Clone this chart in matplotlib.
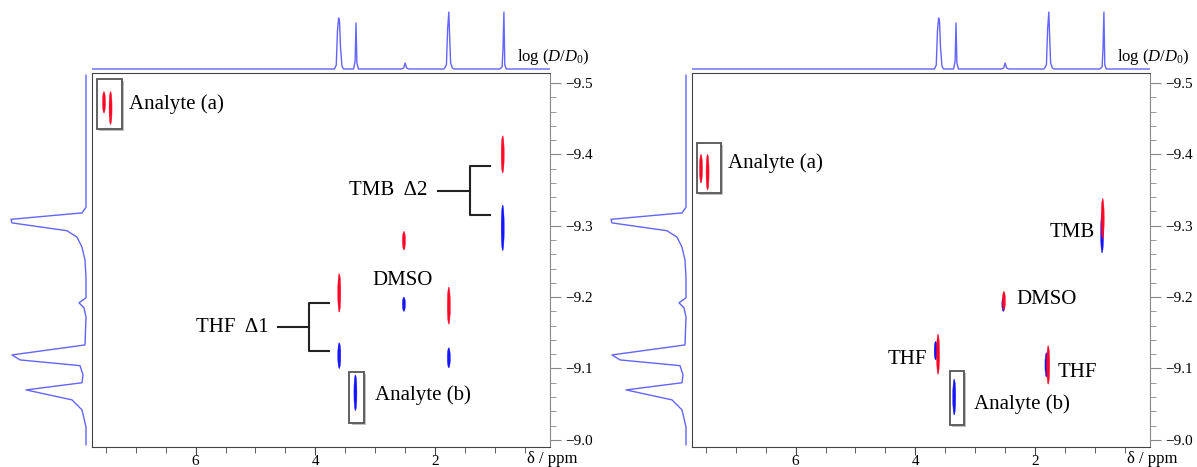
import matplotlib.pyplot as plt
import matplotlib.patheffects as pe
from matplotlib.patches import Ellipse, Rectangle
from matplotlib.ticker import MultipleLocator

plt.rcParams['font.family'] = ['Liberation Serif', 'DejaVu Serif']
plt.rcParams['mathtext.fontset'] = 'custom'
plt.rcParams['mathtext.rm'] = 'Liberation Serif'
plt.rcParams['mathtext.it'] = 'Liberation Serif:italic'

# 1H projection on top (ppm, height)
top_ppm = [7.73, 3.68, 3.65, 3.63, 3.61, 3.595, 3.58, 3.555, 3.53, 3.36, 3.335, 3.32, 3.305, 3.28,
           2.56, 2.525, 2.50, 2.475, 2.44, 1.85, 1.81, 1.79, 1.77, 1.755, 1.74, 1.71, 1.68,
           0.92, 0.88, 0.865, 0.85, 0.835, 0.81, 0.08]
top_int = [0, 0, 4, 38, 51, 47, 22, 3, 0, 0, 8, 46, 6, 0,
           0, 1, 6, 1, 0, 0, 4, 40, 57, 30, 6, 1, 0,
           0, 2, 20, 57, 4, 0, 0]

# diffusion projection on the left (log D, height)
side_logd = [-8.993, -9.018, -9.042, -9.056, -9.070, -9.080, -9.091, -9.104, -9.112, -9.119,
             -9.133, -9.172, -9.185, -9.192, -9.199, -9.228, -9.252, -9.270, -9.284, -9.293,
             -9.304, -9.309, -9.318, -9.326, -9.511]
side_int = [0, 0, 4, 14, 60, 4, 3, 6, 66, 74,
            1, 0, 2, 7, 0, 0, 1, 4, 9, 19,
            74, 75, 4, 0, 0]

# cross peaks: ppm, log D centre, half length
l_red_ppm = [7.53, 7.42, 0.87, 2.52, 3.60, 1.77]
l_red_logd = [-9.473, -9.465, -9.400, -9.279, -9.206, -9.188]
l_red_half = [0.015, 0.023, 0.026, 0.013, 0.027, 0.026]
l_blue_ppm = [0.87, 2.52, 3.60, 1.77, 3.33]
l_blue_logd = [-9.297, -9.190, -9.118, -9.115, -9.066]
l_blue_half = [0.032, 0.010, 0.018, 0.014, 0.025]

r_red_ppm = [7.58, 7.47, 0.87, 2.52, 3.62, 1.78]
r_red_logd = [-9.380, -9.375, -9.310, -9.195, -9.120, -9.105]
r_red_half = [0.020, 0.025, 0.028, 0.013, 0.028, 0.027]
r_blue_ppm = [0.88, 2.53, 3.66, 1.81, 3.35]
r_blue_logd = [-9.290, -9.190, -9.125, -9.105, -9.060]
r_blue_half = [0.028, 0.010, 0.013, 0.017, 0.025]

y_ticks = [-9.5, -9.4, -9.3, -9.2, -9.1, -9.0]
y_labels = ['\u22129.5', '\u22129.4', '\u22129.3', '\u22129.2', '\u22129.1', '\u22129.0']
x_ticks = [6, 4, 2]

W, H = 1197, 467
fig = plt.figure(figsize=(W / 100, H / 100), dpi=100)
proj_col = '#6464ff'
red = '#ff0826'
blue = '#1414ff'
xlim = (7.73, 0.08)
ylim = (-8.990, -9.514)


def box(ax, x0, x1, y0, y1):
    r = Rectangle((x0, y0), x1 - x0, y1 - y0, fc='white', ec='#555555', lw=1.3, zorder=2,
                  path_effects=[pe.SimplePatchShadow(offset=(1.5, -1.5), shadow_rgbFace='#999999', alpha=0.6),
                                pe.Normal()])
    ax.add_patch(r)


def panel(off, red_ppm, red_logd, red_half, blue_ppm, blue_logd, blue_half):
    ax = fig.add_axes([(92 + off) / W, 20 / H, 458 / W, 374 / H])
    ax.set_xlim(*xlim)
    ax.set_ylim(*ylim)
    for s in ax.spines.values():
        s.set_color('#444444')
    ax.spines['right'].set_color('#888888')
    ax.yaxis.tick_right()
    ax.set_yticks(y_ticks)
    ax.set_yticklabels(y_labels)
    ax.yaxis.set_minor_locator(MultipleLocator(0.02))
    ax.set_xticks(x_ticks)
    ax.set_xticklabels([str(t) for t in x_ticks])
    ax.xaxis.set_minor_locator(MultipleLocator(0.5))
    ax.tick_params(axis='y', which='major', length=8, color='#888888', labelsize=11, pad=3)
    ax.tick_params(axis='y', which='minor', length=4, color='#888888')
    ax.tick_params(axis='x', which='major', length=6, color='#444444', labelsize=11, pad=0)
    ax.tick_params(axis='x', which='minor', length=4, color='#444444')

    for p, l, h in zip(blue_ppm, blue_logd, blue_half):
        ax.add_patch(Ellipse((p, l), 0.05, 2 * h, fc=blue, ec=blue, lw=0.3, zorder=3))
    for p, l, h in zip(red_ppm, red_logd, red_half):
        ax.add_patch(Ellipse((p, l), 0.05, 2 * h, fc=red, ec=red, lw=0.3, zorder=4))

    top = fig.add_axes([(92 + off) / W, 396 / H, 458 / W, 68 / H])
    top.plot(top_ppm, top_int, color=proj_col, lw=1.0)
    top.set_xlim(*xlim)
    top.set_ylim(-2, 66)
    top.axis('off')

    side = fig.add_axes([off / W, 20 / H, 92 / W, 374 / H])
    side.plot(side_int, side_logd, color=proj_col, lw=1.0)
    side.set_xlim(86, -6)
    side.set_ylim(*ylim)
    side.axis('off')

    fig.text((517 + off) / W, 1 - 57 / H, r'log ($D$/$D_0$)', fontsize=12, va='center')
    fig.text((527 + off) / W, 1 - 459 / H, '\u03b4 / ppm', fontsize=12, va='center')
    return ax


fs = 15
ax1 = panel(0, l_red_ppm, l_red_logd, l_red_half, l_blue_ppm, l_blue_logd, l_blue_half)
box(ax1, 7.65, 7.23, -9.506, -9.436)
ax1.text(7.12, -9.471, 'Analyte (a)', fontsize=fs, va='center')
box(ax1, 3.43, 3.18, -9.095, -9.024)
ax1.text(3.00, -9.062, 'Analyte (b)', fontsize=fs, va='center')
ax1.text(2.13, -9.349, 'TMB  \u03942', fontsize=fs, va='center', ha='right')
ax1.plot([1.95, 1.42], [-9.349, -9.349], color='#222222', lw=1.5)
ax1.plot([1.08, 1.42, 1.42, 1.08], [-9.384, -9.384, -9.315, -9.315], color='#222222', lw=1.5)
ax1.text(3.05, -9.223, 'DMSO', fontsize=fs, va='center')
ax1.text(4.78, -9.158, 'THF  \u03941', fontsize=fs, va='center', ha='right')
ax1.plot([4.63, 4.10], [-9.158, -9.158], color='#222222', lw=1.5)
ax1.plot([3.77, 4.10, 4.10, 3.77], [-9.192, -9.192, -9.125, -9.125], color='#222222', lw=1.5)

ax2 = panel(600, r_red_ppm, r_red_logd, r_red_half, r_blue_ppm, r_blue_logd, r_blue_half)
box(ax2, 7.65, 7.25, -9.416, -9.346)
ax2.text(7.13, -9.388, 'Analyte (a)', fontsize=fs, va='center')
box(ax2, 3.42, 3.18, -9.097, -9.021)
ax2.text(3.02, -9.050, 'Analyte (b)', fontsize=fs, va='center')
ax2.text(1.00, -9.291, 'TMB', fontsize=fs, va='center', ha='right')
ax2.text(2.32, -9.196, 'DMSO', fontsize=fs, va='center')
ax2.text(3.80, -9.112, 'THF', fontsize=fs, va='center', ha='right')
ax2.text(1.63, -9.095, 'THF', fontsize=fs, va='center')

fig.savefig('out.png', dpi=100)
